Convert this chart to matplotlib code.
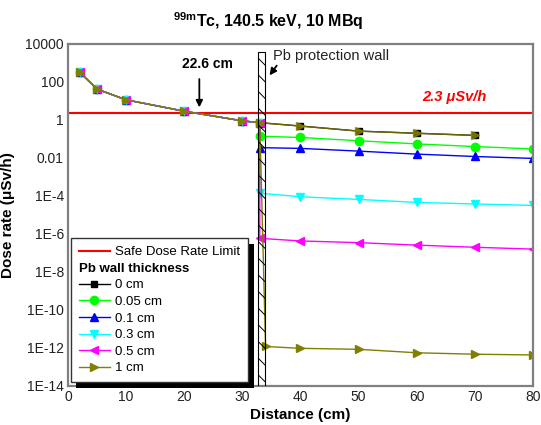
import matplotlib
matplotlib.use('Agg')
import matplotlib.pyplot as plt
import matplotlib.patheffects as pe
from matplotlib.patches import Rectangle
from matplotlib.lines import Line2D
from matplotlib.ticker import NullLocator

plt.rcParams['font.family'] = 'Liberation Sans'
plt.rcParams['mathtext.fontset'] = 'custom'
plt.rcParams['mathtext.rm'] = 'Liberation Sans:bold'
plt.rcParams['mathtext.it'] = 'Liberation Sans:bold'
plt.rcParams['mathtext.bf'] = 'Liberation Sans:bold'
plt.rcParams['hatch.linewidth'] = 0.7

# distances from the source (cm)
dist_open = [2, 5, 10, 20, 30, 33]
dist_wall = [33, 40, 50, 60, 70, 80]
dist_wall_1cm = [34, 40, 50, 60, 70, 80]
dist_0cm_far = [40, 50, 60, 70]

# dose rates (uSv/h)
dose_open = [330, 42, 11.5, 2.9, 0.9, 0.72]
dose_0cm_far = [0.48, 0.26, 0.2, 0.155]
dose_005 = [0.14, 0.12, 0.081, 0.055, 0.040, 0.030]
dose_01 = [0.035, 0.032, 0.023, 0.016, 0.012, 0.0095]
dose_03 = [1.4e-4, 9.1e-5, 6.6e-5, 4.6e-5, 3.8e-5, 3.2e-5]
dose_05 = [5.9e-7, 4.3e-7, 3.5e-7, 2.6e-7, 2.0e-7, 1.6e-7]
dose_1 = [1.2e-12, 9.6e-13, 8.5e-13, 5.6e-13, 4.7e-13, 4.3e-13]

safe_limit = 2.3
crossing = 22.6
wall_left, wall_right = 32.7, 33.9

yticks = [1e4, 1e2, 1, 1e-2, 1e-4, 1e-6, 1e-8, 1e-10, 1e-12, 1e-14]
ylabels = ['10000', '100', '1', '0.01', '1E-4', '1E-6', '1E-8', '1E-10', '1E-12', '1E-14']

olive = '#808000'

fig = plt.figure(figsize=(5.41, 4.25), dpi=100)
ax = fig.add_axes([0.1257, 0.0918, 0.8593, 0.8047])

ms = 6
red, = ax.plot([0, 80], [safe_limit, safe_limit], color='red', lw=1.5, label='Safe Dose Rate Limit')
s0, = ax.plot(dist_open + dist_0cm_far, dose_open + dose_0cm_far, color='black', marker='s', ms=ms - 1, lw=1, label='0 cm')
s1, = ax.plot(dist_open + dist_wall, dose_open + dose_005, color='#00ff00', marker='o', ms=ms, lw=1, label='0.05 cm')
s2, = ax.plot(dist_open + dist_wall, dose_open + dose_01, color='blue', marker='^', ms=ms, lw=1, label='0.1 cm')
s3, = ax.plot(dist_open + dist_wall, dose_open + dose_03, color='cyan', marker='v', ms=ms, lw=1, label='0.3 cm')
s4, = ax.plot(dist_open + dist_wall, dose_open + dose_05, color='magenta', marker='<', ms=ms, lw=1, label='0.5 cm')
s5, = ax.plot(dist_open + dist_wall_1cm, dose_open + dose_1, color=olive, marker='>', ms=ms, lw=1, label='1 cm')
# olive markers sit over the unshielded points behind the wall
ax.plot(dist_open[-1:] + dist_0cm_far, dose_open[-1:] + dose_0cm_far, color=olive, marker='>', ms=ms, lw=1, alpha=0.8)

ax.set_yscale('log')
ax.set_xlim(0, 80)
ax.set_ylim(1e-14, 1e4)
ax.set_yticks(yticks)
ax.set_yticklabels(ylabels)
ax.yaxis.set_minor_locator(NullLocator())
ax.set_xticks(range(0, 81, 10))
ax.tick_params(length=0, pad=3, labelsize=10, colors='#222222')
for sp in ax.spines.values():
    sp.set_color('#808080')
    sp.set_linewidth(1.6)

# lead wall
wall = Rectangle((wall_left, 1e-14), wall_right - wall_left, 4e3 - 1e-14, fill=False,
                 hatch='\\\\', edgecolor='black', lw=0.8, zorder=5)
ax.add_patch(wall)
ax.text(35.3, 2300, 'Pb protection wall', fontsize=10.5, va='center', ha='left', color='#222222')
ax.annotate('', xy=(34.4, 170), xytext=(36.2, 950),
            arrowprops=dict(arrowstyle='-|>', color='black', lw=1.3, mutation_scale=10))

# crossing of the safe limit
ax.annotate('', xy=(crossing, 3.3), xytext=(crossing, 200),
            arrowprops=dict(arrowstyle='-|>', color='black', lw=1.3, mutation_scale=10))
ax.text(24.0, 850, '22.6 cm', fontsize=10, fontweight='bold', ha='center', va='center')
ax.text(66.5, 17, '2.3 \u03bcSv/h', fontsize=10.5, fontweight='bold', style='italic', color='red',
        ha='center', va='center')

ax.set_xlabel('Distance (cm)', fontsize=11, fontweight='bold')
ax.set_ylabel('Dose rate (\u03bcSv/h)', fontsize=11, fontweight='bold')
ax.xaxis.set_label_coords(0.5, -0.065)
ax.yaxis.set_label_coords(-0.115, 0.5)

fig.text(0.495, 1 - 21 / 425, r'$^{\mathrm{99m}}$Tc, 140.5 keV, 10 MBq', fontsize=11.5, fontweight='bold',
         ha='center', va='center')

title_row = Line2D([], [], linestyle='none')
leg = ax.legend([red, title_row, s0, s1, s2, s3, s4, s5],
                ['Safe Dose Rate Limit', 'Pb wall thickness', '0 cm', '0.05 cm', '0.1 cm', '0.3 cm', '0.5 cm', '1 cm'],
                loc='lower left', bbox_to_anchor=(0.006, 0.011), borderaxespad=0, fontsize=9.5,
                labelspacing=0.33, handlelength=2.35, handletextpad=0.4, borderpad=0.6,
                fancybox=False, edgecolor='#333333', framealpha=1)
leg.get_frame().set_linewidth(1.0)
leg.get_frame().set_path_effects([pe.SimplePatchShadow(offset=(4, -4), shadow_rgbFace='black', alpha=1), pe.Normal()])
leg.get_texts()[1].set_fontweight('bold')
leg.set_zorder(10)
# title row: let the text start where the handles start
row = leg._legend_handle_box.get_children()[0].get_children()[1]
row.get_children()[0].width = 0
row.sep = 0

fig.savefig('out.png', dpi=100)
